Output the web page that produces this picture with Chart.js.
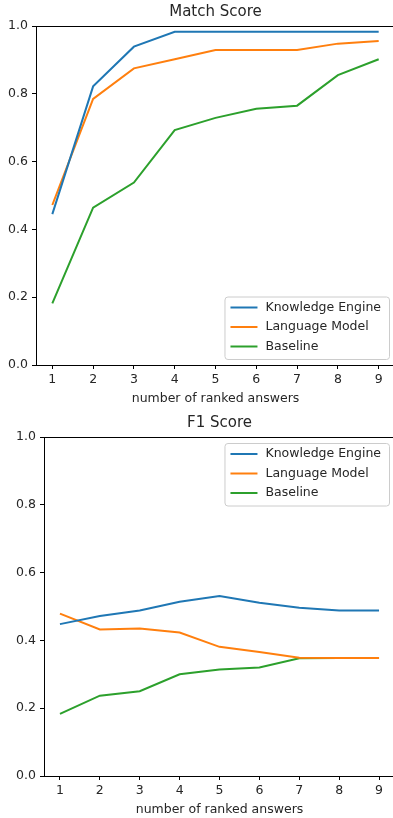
<!DOCTYPE html>
<html>
<head>
<meta charset="utf-8">
<script src="https://cdn.jsdelivr.net/npm/chart.js@4"></script>
<style>
  html, body { margin: 0; padding: 0; background: #fff; overflow: hidden; }
  .panel { position: absolute; left: 0; width: 400px; height: 409px; }
</style>
</head>
<body>
<div class="panel" style="top:0"><canvas id="matchChart" width="400" height="409"></canvas></div>
<div class="panel" style="top:409px"><canvas id="f1Chart" width="400" height="409"></canvas></div>
<script>
// number of ranked answers on the x axis
const answerCounts = [1, 2, 3, 4, 5, 6, 7, 8, 9];
const seriesNames = ['Knowledge Engine', 'Language Model', 'Baseline'];
const seriesColors = ['#1f77b4', '#ff7f0e', '#2ca02c'];
const yTicks = [0, 0.2, 0.4, 0.6, 0.8, 1.0];

// Match Score
const matchKnowledge = [0.445, 0.822, 0.939, 0.983, 0.983, 0.983, 0.983, 0.983, 0.983];
const matchLanguage = [0.472, 0.785, 0.875, 0.902, 0.929, 0.929, 0.929, 0.948, 0.956];
const matchBaseline = [0.182, 0.464, 0.538, 0.693, 0.729, 0.756, 0.765, 0.855, 0.902];

// F1 Score
const f1Knowledge = [0.448, 0.472, 0.488, 0.514, 0.531, 0.511, 0.496, 0.488, 0.488];
const f1Language = [0.479, 0.432, 0.435, 0.423, 0.381, 0.366, 0.349, 0.348, 0.348];
const f1Baseline = [0.183, 0.237, 0.250, 0.300, 0.314, 0.320, 0.347, 0.348, 0.348];

const FONT = 'DejaVu Sans';
const TEXT = '#262626';

// top/right spines and the axes title, centred over the plot like matplotlib
const framePlugin = {
    id: 'frame',
    afterDraw(chart, args, opts) {
        const a = chart.chartArea, ctx = chart.ctx;
        ctx.save();
        ctx.strokeStyle = '#000';
        ctx.lineWidth = 1;
        ctx.beginPath();
        ctx.moveTo(a.left, a.top + 0.5);
        ctx.lineTo(a.right, a.top + 0.5);
        ctx.moveTo(a.right - 0.5, a.top);
        ctx.lineTo(a.right - 0.5, a.bottom);
        ctx.stroke();
        ctx.fillStyle = TEXT;
        ctx.font = '15px "' + FONT + '"';
        ctx.textAlign = 'center';
        ctx.textBaseline = 'middle';
        ctx.fillText(opts.text, (a.left + a.right) / 2, a.top - 14);
        ctx.restore();
    }
};

// legend drawn inside the axes
const innerLegend = {
    id: 'innerLegend',
    afterDatasetsDraw(chart, args, opts) {
        const a = chart.chartArea, ctx = chart.ctx;
        const sets = chart.data.datasets;
        ctx.save();
        ctx.font = '12.5px "' + FONT + '"';
        let textW = 0;
        sets.forEach(d => { textW = Math.max(textW, ctx.measureText(d.label).width); });
        const w = 40 + textW + 9;
        const rowH = 19.5;
        const h = rowH * sets.length + 4;
        const x = a.right - 6 - w;
        const y = opts.loc === 'lower right' ? a.bottom - 6 - h : a.top + 6;
        ctx.fillStyle = 'rgba(255,255,255,0.8)';
        ctx.strokeStyle = '#cccccc';
        ctx.lineWidth = 1;
        ctx.beginPath();
        ctx.roundRect(x + 0.5, y + 0.5, w, h, 3);
        ctx.fill();
        ctx.stroke();
        sets.forEach((d, i) => {
            const cy = y + 11 + i * rowH;
            ctx.strokeStyle = d.borderColor;
            ctx.lineWidth = 2;
            ctx.beginPath();
            ctx.moveTo(x + 6, cy);
            ctx.lineTo(x + 33, cy);
            ctx.stroke();
            ctx.fillStyle = TEXT;
            ctx.textBaseline = 'middle';
            ctx.fillText(d.label, x + 41, cy);
        });
        ctx.restore();
    }
};

function makeChart(id, title, values, leftWidth, legendLoc, topPad, xHeight, xTitleBottom) {
    const ctx = document.getElementById(id);
    return new Chart(ctx.getContext('2d'), {
        type: 'line',
        data: {
            datasets: values.map((vals, i) => ({
                label: seriesNames[i],
                data: answerCounts.map((c, j) => ({ x: c, y: vals[j] })),
                borderColor: seriesColors[i],
                backgroundColor: seriesColors[i],
                borderWidth: 2,
                pointRadius: 0,
                tension: 0,
                fill: false
            }))
        },
        options: {
            responsive: false,
            animation: false,
            layout: { padding: { left: 0, right: 5, top: topPad, bottom: 0 } },
            scales: {
                x: {
                    type: 'linear',
                    min: 0.6,
                    max: 9.4,
                    afterBuildTicks: s => { s.ticks = answerCounts.map(v => ({ value: v })); },
                    afterFit: s => { s.height = xHeight; },
                    border: { display: true, color: '#000', width: 1 },
                    grid: { drawOnChartArea: false, drawTicks: true, tickLength: 4, color: '#000' },
                    ticks: { color: TEXT, font: { family: FONT, size: 12.5 }, padding: 3, maxRotation: 0 },
                    title: {
                        display: true,
                        text: 'number of ranked answers',
                        color: TEXT,
                        font: { family: FONT, size: 12.5 },
                        padding: { top: 0, bottom: xTitleBottom }
                    }
                },
                y: {
                    min: 0,
                    max: 1,
                    afterBuildTicks: s => { s.ticks = yTicks.map(v => ({ value: v })); },
                    afterFit: s => { s.width = leftWidth; },
                    border: { display: true, color: '#000', width: 1 },
                    grid: { drawOnChartArea: false, drawTicks: true, tickLength: 4, color: '#000' },
                    ticks: {
                        color: TEXT,
                        font: { family: FONT, size: 12.5 },
                        padding: 4,
                        callback: v => v.toFixed(1)
                    }
                }
            },
            plugins: {
                legend: { display: false },
                tooltip: { enabled: false },
                title: { display: false },
                frame: { text: title },
                innerLegend: { loc: legendLoc }
            }
        },
        plugins: [framePlugin, innerLegend]
    });
}

document.addEventListener('DOMContentLoaded', function() {
    makeChart('matchChart', 'Match Score', [matchKnowledge, matchLanguage, matchBaseline], 36, 'lower right', 26, 44, 3);
    makeChart('f1Chart', 'F1 Score', [f1Knowledge, f1Language, f1Baseline], 44, 'upper right', 28, 42, 1);
});
</script>
</body>
</html>
